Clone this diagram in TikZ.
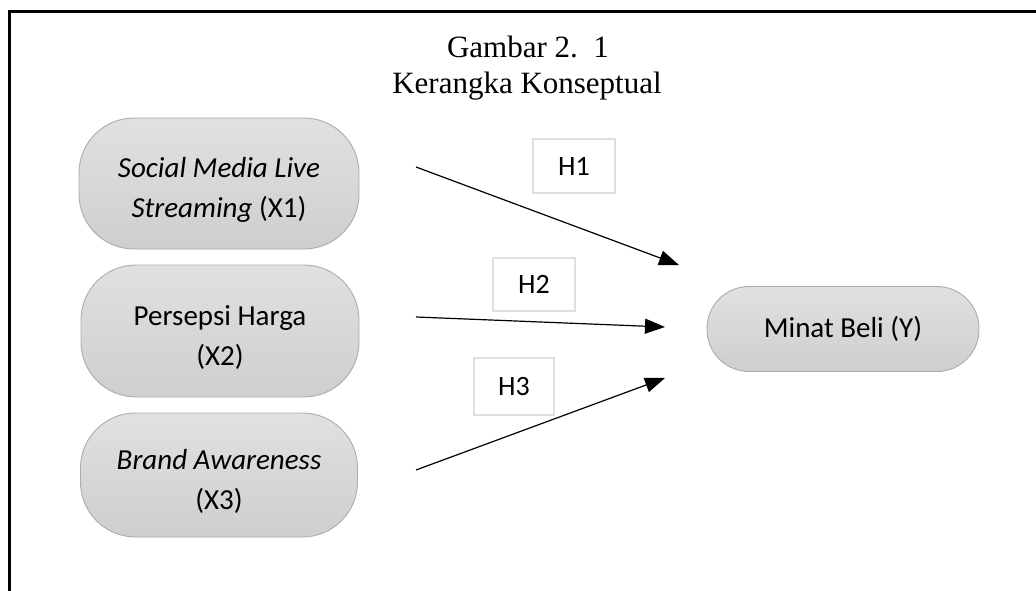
\documentclass[tikz,border=0pt]{standalone}
\usepackage{fontspec}
\setmainfont{Liberation Serif}
\newfontfamily\calib{Carlito}
\usetikzlibrary{arrows.meta,shadings}
\newcommand{\tallstrut}{\rule{0pt}{33pt}}
\begin{document}
\begin{tikzpicture}[x=1pt,y=-1pt,
  var/.style={draw=gray!65,line width=0.9pt,top color=gray!24,bottom color=gray!38,
    rounded corners=#1,inner sep=0pt,align=center,
    font=\calib\fontsize{29}{40}\selectfont},
  hbox/.style={draw=gray!25,line width=2pt,fill=white,inner sep=0pt,
    font=\calib\fontsize{28}{32}\selectfont},
  conn/.style={line width=1.2pt,-{Triangle[length=20pt,width=15pt]}},
  frame/.style={line width=3pt,line cap=rect}]
\useasboundingbox (0,0) rectangle (1036,591);
\draw[frame] (9,600) -- (9,12) -- (1040,12);
\node[font=\fontsize{31}{36}\selectfont,anchor=base] (t1) at (528,58) {Gambar 2.\ \ 1};
\node[font=\fontsize{31}{36}\selectfont,anchor=base] (t2) at (527,94) {Kerangka Konseptual};
\node[var=55pt,minimum width=280pt,minimum height=131pt] (x1) at (219,183.5)
  {\tallstrut\itshape Social Media Live\\\textit{Streaming} (X1)};
\node[var=55pt,minimum width=278pt,minimum height=132pt] (x2) at (220,331)
  {\tallstrut Persepsi Harga\\(X2)};
\node[var=55pt,minimum width=277pt,minimum height=124pt] (x3) at (219,475)
  {\tallstrut\textit{Brand Awareness}\\(X3)};
\node[var=42pt,minimum width=272pt,minimum height=85pt] (y) at (843,329)
  {Minat Beli (Y)};
\node[hbox,minimum width=82pt,minimum height=53pt] (h1) at (574,166) {H1};
\node[hbox,minimum width=82pt,minimum height=53pt] (h2) at (534,284.5) {H2};
\node[hbox,minimum width=80pt,minimum height=57pt] (h3) at (514,386.5) {H3};
\coordinate (s1) at (416,167);
\coordinate (e1) at (679,265);
\coordinate (s2) at (416,317);
\coordinate (e2) at (665,327);
\coordinate (s3) at (416,470);
\coordinate (e3) at (665,378);
\draw[conn] (s1) -- (e1);
\draw[conn] (s2) -- (e2);
\draw[conn] (s3) -- (e3);
\end{tikzpicture}
\end{document}
